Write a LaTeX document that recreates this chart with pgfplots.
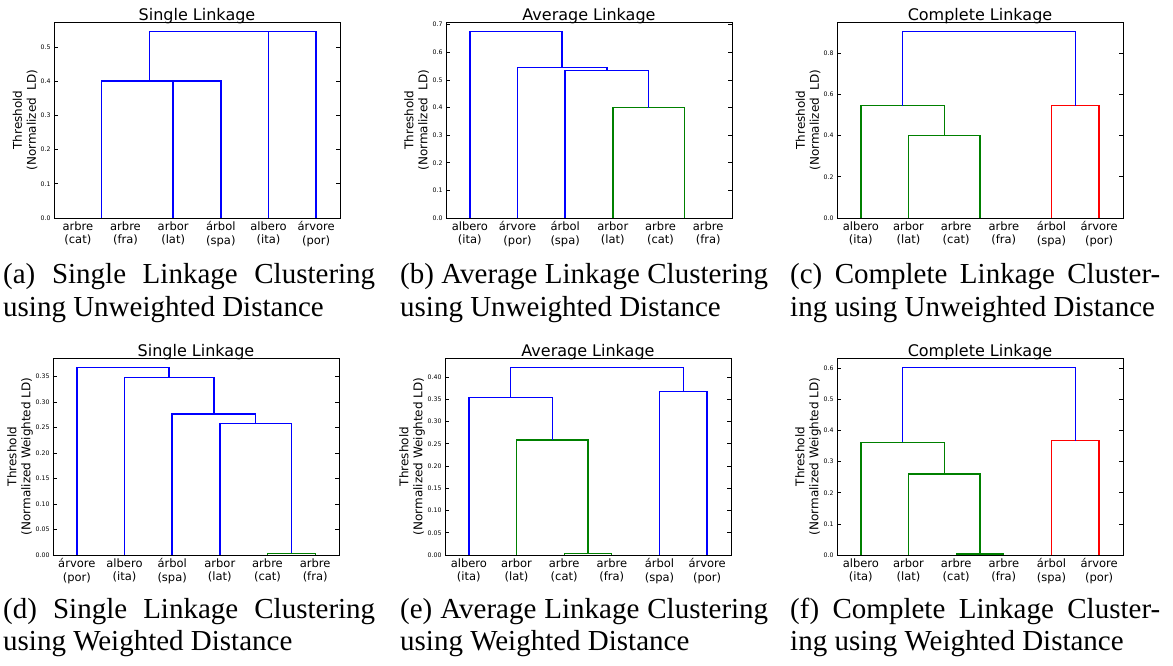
\documentclass[border=0pt]{standalone}
\usepackage{fontspec}
\setmainfont{DejaVu Sans}
\newfontfamily\capfont{Liberation Serif}
\usepackage{pgfplots}
\pgfplotsset{compat=1.18}
\definecolor{mplgreen}{rgb}{0,0.5,0}
\definecolor{mplblue}{rgb}{0,0,1}
\definecolor{mplred}{rgb}{1,0,0}
\pgfplotsset{
  dendro/.style={
    scale only axis, width=286pt,
    xmin=0, xmax=60, ymin=0,
    xtick={5,15,25,35,45,55},
    major x tick style={draw=none},
    xticklabel style={font=\fontsize{11.5}{13.5}\selectfont, align=center},
    yticklabel style={font=\fontsize{6.2}{7}\selectfont, black},
    tick align=inside,
    ytick pos=both,
    major tick length=4pt,
    axis line style={line width=0.9pt, black},
    y tick style={black, line width=0.6pt},
    title style={font=\fontsize{16}{18}\selectfont, inner sep=0pt, yshift=-8pt},
    axis on top,
    scaled y ticks=false,
    /pgf/number format/assume math mode=true,
  },
  ylab/.style={every axis y label/.style={at={([xshift=-#1]axis description cs:0,0.5)}, rotate=90, anchor=center, align=center, font=\fontsize{12}{14}\selectfont}},
  prec/.style={yticklabel={\pgfmathprintnumber[fixed,fixed zerofill,precision=#1]{\tick}}},
  lk/.style={line width=1.4pt},
}
\newcommand{\capline}[4]{\node[anchor=base west, inner sep=0pt] at (#1pt,#2pt) {\capfont\fontsize{29}{33}\selectfont\makebox[#3pt][s]{#4}};}
\newcommand{\capplain}[3]{\node[anchor=base west, inner sep=0pt] at (#1pt,#2pt) {\capfont\fontsize{29}{33}\selectfont #3};}
\begin{document}
\begin{tikzpicture}
\path[use as bounding box] (0,0) rectangle (1173pt,666pt);
% (a)
\begin{axis}[dendro, ylab=29pt, prec=1, at={(54pt,448pt)}, anchor=south west, height=196pt,
  ymax=0.5727, ytick={0,0.1,0.2,0.3,0.4,0.5},
  title={Single Linkage}, ylabel={Threshold\\(Normalized\ \ LD)},
  xticklabels={{arbre\\(cat)},{arbre\\(fra)},{arbor\\(lat)},{árbol\\(spa)},{albero\\(ita)},{árvore\\(por)}}]
\addplot[lk, mplblue] coordinates {(25,0)(25,0.4)(35,0.4)(35,0)};
\addplot[lk, mplblue] coordinates {(10,0)(10,0.4)(30,0.4)(30,0.4)};
\addplot[lk, mplblue] coordinates {(45,0)(45,0.5455)(55,0.5455)(55,0)};
\addplot[lk, mplblue] coordinates {(20,0.4)(20,0.5455)(50,0.5455)(50,0.5455)};
\end{axis}
% (b)
\begin{axis}[dendro, ylab=29.5pt, prec=1, at={(446pt,448pt)}, anchor=south west, height=196pt,
  ymax=0.7098, ytick={0,0.1,0.2,0.3,0.4,0.5,0.6,0.7},
  title={Average Linkage}, ylabel={Threshold\\(Normalized\ \ LD)},
  xticklabels={{albero\\(ita)},{árvore\\(por)},{árbol\\(spa)},{arbor\\(lat)},{arbre\\(cat)},{arbre\\(fra)}}]
\addplot[lk, mplgreen] coordinates {(35,0)(35,0.4)(50,0.4)(50,0)};
\addplot[lk, mplblue] coordinates {(25,0)(25,0.5335)(42.5,0.5335)(42.5,0.4)};
\addplot[lk, mplblue] coordinates {(15,0)(15,0.5455)(33.75,0.5455)(33.75,0.5335)};
\addplot[lk, mplblue] coordinates {(5,0)(5,0.676)(24.375,0.676)(24.375,0.5455)};
\end{axis}
% (c)
\begin{axis}[dendro, ylab=29pt, prec=1, at={(837pt,448pt)}, anchor=south west, height=196pt,
  ymax=0.9513, ytick={0,0.2,0.4,0.6,0.8},
  title={Complete Linkage}, ylabel={Threshold\\(Normalized\ \ LD)},
  xticklabels={{albero\\(ita)},{arbor\\(lat)},{arbre\\(cat)},{arbre\\(fra)},{árbol\\(spa)},{árvore\\(por)}}]
\addplot[lk, mplgreen] coordinates {(15,0)(15,0.4)(30,0.4)(30,0)};
\addplot[lk, mplgreen] coordinates {(5,0)(5,0.5455)(22.5,0.5455)(22.5,0.4)};
\addplot[lk, mplred] coordinates {(45,0)(45,0.5455)(55,0.5455)(55,0)};
\addplot[lk, mplblue] coordinates {(13.75,0.5455)(13.75,0.906)(50,0.906)(50,0.5455)};
\end{axis}
% (d)
\begin{axis}[dendro, ylab=33pt, prec=2, at={(53pt,111pt)}, anchor=south west, height=197pt,
  ymax=0.386, ytick={0,0.05,0.1,0.15,0.2,0.25,0.3,0.35},
  title={Single Linkage}, ylabel={Threshold\\(Normalized Weighted LD)},
  xticklabels={{árvore\\(por)},{albero\\(ita)},{árbol\\(spa)},{arbor\\(lat)},{arbre\\(cat)},{arbre\\(fra)}}]
\addplot[mplgreen, line width=1.2pt] coordinates {(45,0)(45,0.003)(55,0.003)(55,0)};
\addplot[lk, mplblue] coordinates {(35,0)(35,0.2578)(50,0.2578)(50,0.003)};
\addplot[lk, mplblue] coordinates {(25,0)(25,0.2761)(42.5,0.2761)(42.5,0.2578)};
\addplot[lk, mplblue] coordinates {(15,0)(15,0.3474)(33.75,0.3474)(33.75,0.2761)};
\addplot[lk, mplblue] coordinates {(5,0)(5,0.3677)(24.375,0.3677)(24.375,0.3474)};
\end{axis}
% (e)
\begin{axis}[dendro, ylab=33pt, prec=2, at={(445pt,111pt)}, anchor=south west, height=197pt,
  ymax=0.4429, ytick={0,0.05,0.1,0.15,0.2,0.25,0.3,0.35,0.4},
  title={Average Linkage}, ylabel={Threshold\\(Normalized Weighted LD)},
  xticklabels={{albero\\(ita)},{arbor\\(lat)},{arbre\\(cat)},{arbre\\(fra)},{árbol\\(spa)},{árvore\\(por)}}]
\addplot[mplgreen, line width=1.2pt] coordinates {(25,0)(25,0.003)(35,0.003)(35,0)};
\addplot[lk, mplgreen] coordinates {(15,0)(15,0.2582)(30,0.2582)(30,0.003)};
\addplot[lk, mplblue] coordinates {(5,0)(5,0.3542)(22.5,0.3542)(22.5,0.2582)};
\addplot[lk, mplblue] coordinates {(45,0)(45,0.367)(55,0.367)(55,0)};
\addplot[lk, mplblue] coordinates {(13.75,0.3542)(13.75,0.4218)(50,0.4218)(50,0.367)};
\end{axis}
% (f)
\begin{axis}[dendro, ylab=29pt, prec=1, at={(837pt,111pt)}, anchor=south west, height=197pt,
  ymax=0.633, ytick={0,0.1,0.2,0.3,0.4,0.5,0.6},
  title={Complete Linkage}, ylabel={Threshold\\(Normalized Weighted LD)},
  xticklabels={{albero\\(ita)},{arbor\\(lat)},{arbre\\(cat)},{arbre\\(fra)},{árbol\\(spa)},{árvore\\(por)}}]
\addplot[mplgreen, line width=1.2pt] coordinates {(25,0)(25,0.003)(35,0.003)(35,0)};
\addplot[lk, mplgreen] coordinates {(15,0)(15,0.2597)(30,0.2597)(30,0.003)};
\addplot[lk, mplgreen] coordinates {(5,0)(5,0.3617)(22.5,0.3617)(22.5,0.2597)};
\addplot[lk, mplred] coordinates {(45,0)(45,0.367)(55,0.367)(55,0)};
\addplot[lk, mplblue] coordinates {(13.75,0.3617)(13.75,0.603)(50,0.603)(50,0.367)};
\end{axis}
% captions
\capline{3}{382}{372}{(a) Single Linkage Clustering}
\capplain{3}{349}{using Unweighted Distance}
\capline{400}{382}{368}{(b) Average Linkage Clustering}
\capplain{400}{349}{using Unweighted Distance}
\capline{790}{382}{370}{(c) Complete Linkage Cluster-}
\capplain{790}{349}{ing using Unweighted Distance}
\capline{3}{47}{372}{(d) Single Linkage Clustering}
\capplain{3}{15}{using Weighted Distance}
\capline{400}{47}{368}{(e) Average Linkage Clustering}
\capplain{400}{15}{using Weighted Distance}
\capline{790}{47}{370}{(f) Complete Linkage Cluster-}
\capplain{790}{15}{ing using Weighted Distance}
\end{tikzpicture}
\end{document}
